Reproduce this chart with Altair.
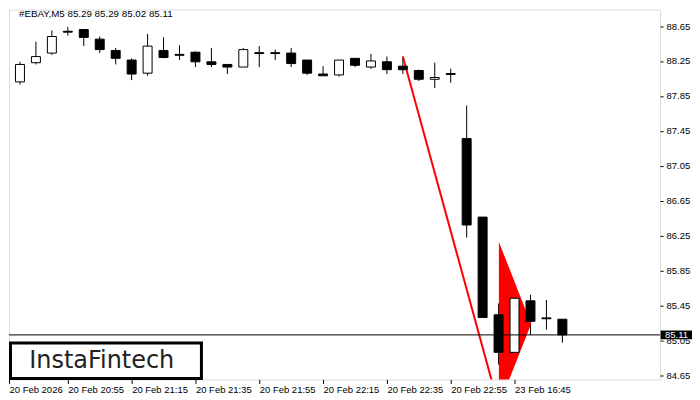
import altair as alt
import pandas as pd
import json

# ---- data ----
idx = list(range(36))
opens = [88.05, 88.01, 88.23, 88.34, 88.59, 88.61, 88.50, 88.37, 88.26, 88.11,
         88.37, 88.325, 88.35, 88.24, 88.21, 88.18, 88.345, 88.345, 88.34, 88.26,
         88.10, 88.09, 88.28, 88.18, 88.24, 88.19, 88.14, 88.04, 88.105, 87.36,
         86.46, 85.34, 84.91, 85.50, 85.305, 85.29]
highs = [88.19, 88.24, 88.47, 88.60, 88.64, 88.61, 88.53, 88.40, 88.28, 88.56,
         88.52, 88.43, 88.36, 88.40, 88.21, 88.40, 88.42, 88.38, 88.40, 88.26,
         88.19, 88.26, 88.28, 88.33, 88.30, 88.30, 88.15, 88.23, 88.16, 87.74,
         86.46, 85.47, 85.585, 85.57, 85.51, 85.29]
lows = [87.82, 87.98, 88.21, 88.32, 88.54, 88.42, 88.34, 88.21, 88.03, 88.08,
        88.28, 88.26, 88.18, 88.18, 88.10, 88.18, 88.18, 88.26, 88.18, 88.09,
        88.08, 88.07, 88.18, 88.16, 88.10, 88.10, 88.02, 87.94, 88.00, 86.225,
        85.31, 84.77, 84.91, 85.11, 85.17, 85.02]
closes = [88.02, 88.21, 88.30, 88.53, 88.58, 88.52, 88.38, 88.28, 88.10, 88.42,
          88.29, 88.315, 88.24, 88.21, 88.18, 88.38, 88.335, 88.335, 88.22, 88.11,
          88.08, 88.26, 88.20, 88.25, 88.15, 88.15, 88.04, 88.06, 88.095, 86.37,
          85.31, 84.91, 85.53, 85.265, 85.295, 85.11]

x_tick_values = [0.3125, 4, 8, 12, 16, 20, 24, 28, 32]
x_tick_labels = ["20 Feb 2026", "20 Feb 20:55", "20 Feb 21:15", "20 Feb 21:35",
                 "20 Feb 21:55", "20 Feb 22:15", "20 Feb 22:35", "20 Feb 22:55",
                 "23 Feb 16:45"]
y_tick_values = [84.65, 85.05, 85.45, 85.85, 86.25, 86.65, 87.05, 87.45, 87.85, 88.25, 88.65]

trend_x = [25, 30.7]
trend_y = [88.30, 84.50]

pennant_x = [31.02, 33.04]
pennant_top = [86.176, 85.235]
pennant_bot = [84.30, 85.235]

last_price = 85.11
title_text = "#EBAY,M5  85.29 85.29 85.02 85.11"
logo_text = "InstaFintech"

X_DOMAIN = [0.3125, 41.125]
Y_DOMAIN = [84.599, 88.839]
FONT = "Liberation Sans"

df = pd.DataFrame({"i": idx, "o": opens, "h": highs, "l": lows, "c": closes})
df["dir"] = ["up" if c > o else "down" for o, c in zip(opens, closes)]

xs = alt.Scale(domain=X_DOMAIN, nice=False, zero=False, padding=0)
ys = alt.Scale(domain=Y_DOMAIN, nice=False, zero=False, padding=0)

label_expr = json.dumps(x_tick_labels) + "[round(datum.value/4)]"

x_axis = alt.Axis(values=x_tick_values, labelExpr=label_expr, title=None, grid=False,
                  domain=False, tickSize=4, tickColor="black", labelColor="black",
                  labelAlign="left", labelBaseline="top", labelPadding=1,
                  labelFontSize=9.5, labelFont=FONT, labelFlush=False,
                  labelOverlap=False, orient="bottom")
y_axis = alt.Axis(values=y_tick_values, format=".2f", title=None, grid=False,
                  domain=False, tickSize=3, tickColor="black", labelColor="black",
                  labelPadding=3, labelFontSize=9.5, labelFont=FONT,
                  labelOverlap=False, orient="right", labelFlush=False)


def X(field):
    return alt.X(field, type="quantitative", scale=xs, axis=x_axis)


def Y(field):
    return alt.Y(field, type="quantitative", scale=ys, axis=y_axis)


base = alt.Chart(df)

wicks = base.mark_rule(color="black", strokeWidth=1, clip=True).encode(
    x=X("i"), y=Y("l"), y2="h:Q",
)

trend_df = pd.DataFrame({"x": trend_x, "y": trend_y})
trend = alt.Chart(trend_df).mark_line(color="#ff0000", strokeWidth=2, clip=True).encode(
    x=X("x"), y=Y("y")
)

pen_df = pd.DataFrame({"x": pennant_x, "t": pennant_top, "b": pennant_bot})
pennant = alt.Chart(pen_df).mark_area(color="#ff0000", opacity=1, clip=True).encode(
    x=X("x"), y=Y("t"), y2="b:Q"
)

bodies = base.mark_bar(size=9, stroke="black", strokeWidth=1, clip=True).encode(
    x=X("i"), y=Y("o"), y2="c:Q",
    fill=alt.Fill("dir:N", scale=alt.Scale(domain=["up", "down"], range=["white", "black"]),
                  legend=None),
)

last_df = pd.DataFrame({"p": [last_price], "lo": [last_price - 0.05], "hi": [last_price + 0.05],
                        "t": [f"{last_price:.2f}"]})
last_line = alt.Chart(last_df).mark_rule(color="black", strokeWidth=1).encode(
    y=Y("p")
)
last_box = alt.Chart(last_df).mark_rect(color="black").encode(
    x=alt.value(653.5), x2=alt.value(685), y=Y("hi"), y2="lo:Q"
)
last_txt = alt.Chart(last_df).mark_text(color="white", font=FONT, fontSize=9.5,
                                        align="left", baseline="middle").encode(
    x=alt.value(658), y=Y("p"), text="t:N"
)

title_df = pd.DataFrame({"t": [title_text]})
title = alt.Chart(title_df).mark_text(color="black", font=FONT, fontSize=9.8,
                                      align="left", baseline="middle").encode(
    x=alt.value(10), y=alt.value(4), text="t:N"
)

logo_df = pd.DataFrame({"t": [logo_text]})
logo_box = alt.Chart(logo_df).mark_rect(fill="white", stroke="black", strokeWidth=3).encode(
    x=alt.value(1.5), x2=alt.value(193), y=alt.value(334.5), y2=alt.value(370)
)
logo_txt = alt.Chart(logo_df).mark_text(color="#222222", font="DejaVu Sans", fontSize=24,
                                        align="center", baseline="alphabetic").encode(
    x=alt.value(93), y=alt.value(359), text="t:N"
)

chart = alt.layer(
    wicks, trend, pennant, bodies, last_line, last_box, last_txt, title, logo_box, logo_txt
).properties(
    width=653, height=371, padding=0
).configure_view(
    stroke="black", strokeWidth=1
).configure_axis(
    labelOverlap=False
).configure(background="white")

chart.save("out.html", embed_options={"renderer": "svg", "actions": False})
